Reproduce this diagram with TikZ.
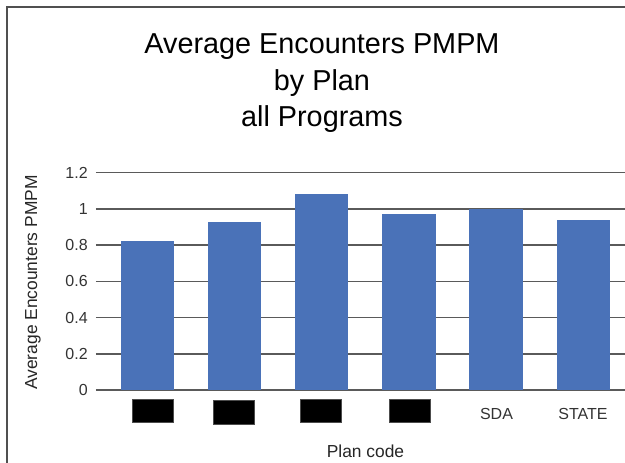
\documentclass[tikz,border=0pt]{standalone}
\usepackage{fontspec}
\setmainfont{Liberation Sans}
\definecolor{barblue}{HTML}{4A72B8}
\definecolor{gridgray}{HTML}{5A5A5A}
\definecolor{framegray}{HTML}{505050}
\usetikzlibrary{positioning}
\tikzset{
	frameline/.style={
			draw=framegray,
			line width=1.2pt
		},
	gridline/.style={
			draw=gridgray,
			line width=0.9pt
		},
	barfill/.style={
			fill=barblue,
			draw=none
		},
	ticklabel/.style={
			anchor=east,
			inner sep=0pt,
			text=black!80,
			font=\fontsize{9.1}{10}\selectfont
		},
	codebox/.style={
			rectangle,
			fill=black,
			draw=black!70,
			thin,
			minimum width=8.2mm,
			minimum height=4.7mm,
			inner sep=0pt
		},
	codelabel/.style={
			anchor=base,
			inner sep=0pt,
			text=black!80,
			font=\fontsize{9.1}{10}\selectfont
		},
	axistitle/.style={
			inner sep=0pt,
			text=black!85,
			font=\fontsize{9.9}{11}\selectfont
		},
	charttitle/.style={
			anchor=base,
			inner sep=0pt,
			font=\fontsize{16.4}{20}\selectfont
		}
}

\begin{document}
\begin{tikzpicture}[x=0.2mm, y=-0.2mm]
\useasboundingbox (0,0) rectangle (625,463);

\draw[frameline] (7,463) -- (7,7) -- (625,7);

\node[charttitle] (title1) at (322,54) {Average Encounters PMPM};
\node[charttitle] (title2) at (322,90.5) {by Plan};
\node[charttitle] (title3) at (322,127) {all Programs};

\foreach \v in {0,0.2,0.4,0.6,0.8,1,1.2} {
	\draw[gridline] (96,{390-181.1*\v}) -- (625,{390-181.1*\v});
	\node[ticklabel] (tick\v) at (88,{390-181.1*\v}) {\v};
}

\foreach \x/\v in {147.3/0.82, 234.5/0.93, 321.7/1.08, 408.9/0.97, 496.1/1.0, 583.3/0.94}
	\fill[barfill] (\x-26.7,390) rectangle (\x+26.7,{390-181.1*\v});

\node[codebox] (code1) at (152.5,411) {};
\node[codebox] (code2) at (233.5,412.5) {};
\node[codebox] (code3) at (321,411) {};
\node[codebox] (code4) at (410,411) {};
\node[codelabel] (sda) at (496.5,420) {SDA};
\node[codelabel] (state) at (583,420) {STATE};

\node[axistitle, anchor=base] (xlabel) at (365.5,458) {Plan code};
\node[axistitle, rotate=90] (ylabel) at (33,282.5) {Average Encounters PMPM};
\end{tikzpicture}
\end{document}
